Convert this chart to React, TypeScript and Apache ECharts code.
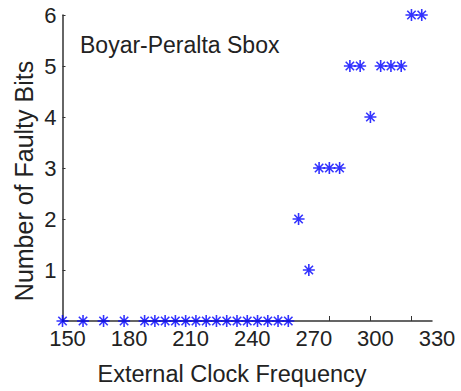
import React, { useEffect, useRef } from "react";
import * as echarts from "echarts";

const xValues = [150, 160, 170, 180, 190, 195, 200, 205, 210, 215, 220, 225, 230, 235, 240, 245, 250, 255, 260, 265, 270, 275, 280, 285, 290, 295, 300, 305, 310, 315, 320, 325];
const faultyBits = [0, 0, 0, 0, 0, 0, 0, 0, 0, 0, 0, 0, 0, 0, 0, 0, 0, 0, 0, 2, 1, 3, 3, 3, 5, 5, 4, 5, 5, 5, 6, 6];
const xTickLabels = [150, 180, 210, 240, 270, 300, 330];
const xTickMarks = [280, 300, 320];
const yTickLabels = [1, 2, 3, 4, 5, 6];

const asterisk = "path://M10 0 L10 20 M0 10 L20 10 M3 3 L17 17 M3 17 L17 3";

export default function App() {
  const ref = useRef<HTMLDivElement>(null);
  useEffect(() => {
    if (!ref.current) return;
    const chart = echarts.init(ref.current, null, { renderer: "svg" });
    const font = "'Liberation Sans', Arial, sans-serif";
    chart.setOption({
      animation: false,
      backgroundColor: "#ffffff",
      grid: { left: 62.5, right: 29, top: 15, bottom: 70 },
      xAxis: {
        type: "value",
        min: 150,
        max: 330,
        splitLine: { show: false },
        axisLine: { lineStyle: { color: "#333", width: 1.5 } },
        axisTick: { show: true, inside: true, length: 5, customValues: xTickMarks, lineStyle: { color: "#333" } },
        axisLabel: {
          customValues: xTickLabels,
          color: "#222",
          fontSize: 22,
          fontFamily: font,
          margin: 6,
          padding: [0, 0, 0, 10],
        },
      },
      yAxis: {
        type: "value",
        min: 0,
        max: 6,
        interval: 1,
        splitLine: { show: false },
        axisLine: { show: true, lineStyle: { color: "#333", width: 1.5 } },
        axisTick: { show: true, inside: true, length: 3, customValues: yTickLabels, lineStyle: { color: "#333" } },
        axisLabel: {
          customValues: yTickLabels,
          color: "#222",
          fontSize: 22,
          fontFamily: font,
          margin: 6,
        },
      },
      graphic: [
        {
          type: "text",
          left: 80,
          top: 33,
          style: { text: "Boyar-Peralta Sbox", fill: "#222", fontSize: 23, fontFamily: font },
        },
        {
          type: "text",
          x: 232,
          y: 374,
          style: {
            text: "External Clock Frequency",
            fill: "#222",
            fontSize: 23.5,
            fontFamily: font,
            align: "center",
            verticalAlign: "middle",
          },
        },
        {
          type: "text",
          x: 24,
          y: 181,
          rotation: Math.PI / 2,
          style: {
            text: "Number of Faulty Bits",
            fill: "#222",
            fontSize: 25,
            fontFamily: font,
            align: "center",
            verticalAlign: "middle",
          },
        },
      ],
      series: [
        {
          type: "scatter",
          clip: false,
          symbol: asterisk,
          symbolSize: 12,
          itemStyle: { color: "#0000ff", borderColor: "#0000ff", borderWidth: 1.6 },
          data: xValues.map((x, i) => [x, faultyBits[i]]),
        },
      ],
    });
    return () => chart.dispose();
  }, []);
  return <div ref={ref} style={{ position: "fixed", left: 0, top: 0, width: 461, height: 391 }} />;
}
